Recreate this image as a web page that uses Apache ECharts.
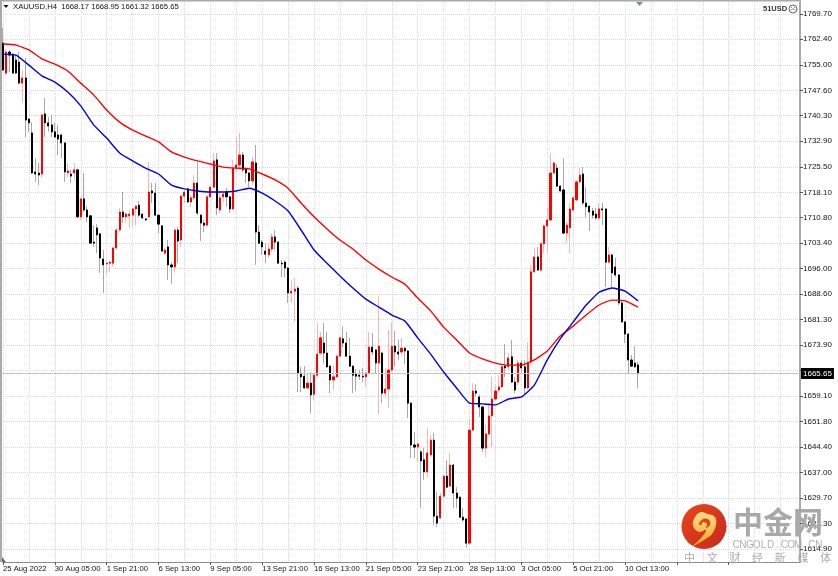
<!DOCTYPE html>
<html><head><meta charset="utf-8">
<style>html,body{margin:0;padding:0;background:#fff}#c{width:838px;height:576px}</style>
<script src="https://cdn.jsdelivr.net/npm/echarts@6/dist/echarts.min.js"></script>
</head><body><div id="c"></div>
<script>
const xTickLabels=["25 Aug 2022","30 Aug 05:00","1 Sep 21:00","6 Sep 13:00","9 Sep 05:00","13 Sep 21:00","16 Sep 13:00","21 Sep 05:00","23 Sep 21:00","28 Sep 13:00","3 Oct 05:00","5 Oct 21:00","10 Oct 13:00"];
const yTicks=[1769.70,1762.40,1755.00,1747.60,1740.30,1732.90,1725.50,1718.10,1710.80,1703.40,1696.00,1688.60,1681.30,1673.90,1666.50,1659.10,1651.80,1644.40,1637.00,1629.70,1622.30,1614.90];
const yHiddenLabel=1666.50;
const lastPrice=1665.65;
const open=[1761.3,1752.6,1758.7,1758.1,1756.4,1755.8,1749.7,1751.2,1739.3,1735.3,1724.0,1723.7,1723.4,1740.8,1738.2,1737.6,1735.6,1734.7,1734.7,1732.4,1723.7,1723.4,1723.7,1724.6,1711.0,1716.2,1713.0,1711.3,1703.7,1707.8,1706.1,1698.8,1697.4,1697.6,1697.6,1702.0,1707.2,1712.4,1711.0,1711.3,1711.5,1713.3,1714.4,1711.8,1710.4,1711.0,1718.5,1717.9,1711.5,1708.4,1700.5,1702.3,1697.1,1696.5,1707.2,1704.3,1717.0,1719.1,1715.3,1716.5,1720.8,1711.5,1709.2,1708.6,1716.8,1719.6,1727.5,1713.0,1716.8,1718.2,1716.8,1713.3,1725.1,1726.0,1728.9,1724.9,1723.7,1721.4,1726.6,1706.6,1703.7,1701.1,1700.0,1701.7,1705.2,1703.7,1697.6,1697.9,1696.2,1689.0,1689.5,1690.4,1665.8,1664.9,1661.5,1662.9,1659.7,1665.2,1671.6,1674.5,1671.6,1667.8,1663.8,1664.7,1670.7,1675.7,1674.5,1670.7,1667.8,1665.5,1665.2,1664.9,1664.7,1665.8,1673.3,1672.5,1668.7,1671.6,1660.0,1661.2,1666.7,1673.6,1671.9,1671.9,1673.0,1672.2,1657.1,1645.0,1644.4,1643.0,1640.7,1637.2,1642.1,1646.4,1624.4,1623.9,1630.2,1636.0,1633.1,1639.2,1631.1,1629.9,1624.1,1623.6,1616.6,1649.3,1660.6,1658.9,1656.0,1644.1,1648.2,1653.4,1658.3,1660.9,1661.8,1667.8,1667.6,1670.5,1663.2,1663.2,1668.7,1667.6,1661.5,1669.0,1695.1,1699.4,1695.6,1703.2,1708.4,1710.1,1723.7,1725.1,1719.9,1718.8,1706.3,1707.8,1713.0,1715.9,1721.1,1723.4,1715.0,1714.1,1712.7,1711.8,1710.7,1713.3,1713.3,1697.9,1700.0,1696.5,1694.2,1686.1,1680.6,1677.1,1669.6,1668.7,1668.17];
const close=[1753.5,1758.7,1757.8,1752.6,1752.6,1749.7,1751.2,1739.0,1738.2,1723.7,1723.4,1723.1,1740.5,1738.2,1737.3,1735.6,1734.1,1733.5,1732.4,1724.0,1724.3,1722.8,1724.6,1711.0,1716.2,1713.0,1711.0,1703.4,1703.4,1705.8,1699.1,1697.1,1697.6,1697.9,1702.0,1707.2,1712.4,1711.0,1711.8,1711.8,1713.3,1714.1,1711.5,1710.7,1710.1,1718.2,1717.9,1711.5,1708.9,1701.1,1701.4,1697.1,1696.5,1707.2,1704.0,1717.0,1718.2,1715.3,1716.5,1720.8,1712.1,1709.2,1708.6,1716.8,1719.6,1727.2,1713.6,1716.5,1717.6,1716.8,1713.3,1725.1,1726.0,1728.9,1724.6,1723.7,1721.4,1726.9,1706.6,1703.4,1702.3,1700.2,1701.7,1705.2,1703.7,1697.6,1697.4,1696.2,1689.0,1689.5,1690.1,1665.8,1664.7,1661.5,1662.9,1659.5,1665.2,1671.3,1676.0,1671.6,1667.6,1663.8,1664.7,1670.7,1676.0,1674.5,1670.7,1667.8,1665.2,1664.9,1664.9,1664.7,1665.8,1673.3,1671.9,1668.7,1673.6,1660.0,1661.2,1666.7,1673.6,1671.9,1671.3,1673.0,1672.2,1657.1,1645.0,1644.4,1645.3,1640.4,1637.2,1642.7,1646.4,1624.4,1622.4,1630.2,1636.0,1632.8,1639.2,1631.1,1629.6,1624.1,1623.3,1616.6,1649.3,1660.6,1660.0,1656.0,1644.1,1648.2,1653.4,1658.3,1660.6,1661.8,1667.6,1667.3,1670.2,1663.2,1660.9,1668.7,1667.3,1661.5,1668.7,1695.1,1699.4,1695.6,1703.2,1708.4,1710.1,1723.7,1726.6,1719.9,1718.5,1706.3,1708.6,1713.3,1716.5,1721.1,1723.1,1715.0,1713.9,1712.4,1711.5,1710.7,1713.3,1713.0,1697.9,1700.0,1694.8,1694.2,1686.1,1680.6,1677.1,1669.6,1667.8,1667.6,1665.65];
const low=[1753.2,1752.0,1752.9,1752.3,1752.3,1749.4,1744.0,1734.1,1735.6,1723.4,1721.1,1720.2,1722.2,1734.1,1735.6,1734.1,1733.8,1728.9,1728.0,1721.1,1722.5,1720.8,1721.7,1710.7,1710.1,1712.4,1709.5,1703.2,1702.3,1700.5,1694.8,1689.0,1694.5,1695.1,1696.5,1701.4,1706.6,1709.2,1709.5,1707.8,1708.1,1708.6,1711.0,1710.4,1709.8,1710.7,1715.0,1711.3,1706.3,1700.8,1700.0,1692.7,1691.6,1694.8,1697.6,1702.3,1715.0,1715.0,1713.9,1715.9,1711.5,1704.0,1706.6,1708.4,1716.5,1719.3,1711.5,1712.1,1715.3,1713.9,1712.1,1713.0,1723.7,1724.6,1724.0,1720.8,1719.6,1720.2,1697.1,1703.2,1700.0,1697.6,1699.1,1700.8,1701.4,1697.4,1693.6,1693.6,1686.1,1686.1,1680.6,1660.3,1660.3,1661.2,1661.2,1654.2,1658.0,1664.7,1671.3,1668.7,1667.3,1660.0,1660.9,1664.4,1670.5,1673.3,1670.5,1667.6,1660.0,1660.6,1663.8,1663.2,1661.8,1665.5,1671.0,1665.5,1653.9,1657.1,1658.6,1655.7,1666.1,1667.8,1669.6,1671.0,1668.4,1652.8,1641.2,1641.2,1639.8,1626.8,1634.9,1635.7,1641.8,1621.8,1621.3,1623.6,1629.7,1632.5,1632.8,1626.8,1626.8,1623.9,1622.7,1615.2,1616.1,1649.0,1659.2,1653.1,1643.0,1641.5,1647.9,1644.4,1658.0,1660.3,1661.5,1664.7,1666.7,1662.9,1660.0,1662.3,1666.1,1659.5,1660.9,1668.1,1694.8,1695.3,1695.1,1700.5,1700.5,1709.8,1723.4,1719.6,1718.2,1706.0,1703.4,1700.5,1712.7,1715.6,1720.8,1714.4,1710.7,1706.9,1710.4,1710.1,1710.1,1708.6,1690.7,1697.6,1690.7,1693.6,1685.5,1680.3,1674.5,1665.8,1667.6,1667.3,1661.32];
const high=[1765.6,1759.6,1759.3,1758.4,1757.8,1758.7,1753.5,1757.0,1739.6,1738.4,1728.0,1726.6,1740.8,1745.4,1739.9,1740.5,1738.2,1737.6,1735.0,1732.7,1726.6,1724.6,1726.6,1724.9,1716.5,1723.7,1714.1,1711.5,1708.6,1708.9,1706.3,1701.4,1697.9,1698.2,1702.3,1707.8,1713.6,1718.2,1712.4,1713.0,1713.6,1714.4,1715.6,1712.1,1710.7,1726.9,1720.8,1720.8,1711.5,1708.6,1702.0,1704.3,1697.9,1707.5,1708.1,1717.3,1718.8,1719.4,1717.3,1723.1,1726.9,1711.8,1710.1,1717.0,1719.9,1729.5,1729.5,1717.9,1718.2,1719.4,1717.0,1727.5,1734.1,1735.3,1729.8,1725.4,1724.0,1728.3,1731.8,1708.6,1704.3,1703.4,1703.4,1706.3,1707.2,1704.0,1698.5,1698.5,1696.5,1692.7,1693.3,1691.0,1667.6,1667.8,1665.8,1666.1,1665.5,1680.3,1677.7,1680.3,1677.7,1668.1,1668.1,1671.0,1676.2,1679.4,1677.7,1676.0,1668.1,1667.0,1666.7,1667.3,1666.1,1677.7,1677.4,1672.8,1688.1,1671.9,1667.3,1678.3,1680.6,1678.0,1675.4,1676.0,1673.3,1672.5,1657.4,1648.7,1645.6,1643.5,1644.1,1649.9,1647.9,1648.5,1631.4,1631.1,1636.3,1640.7,1642.7,1639.5,1632.8,1630.2,1626.8,1623.9,1652.5,1662.9,1662.6,1659.5,1656.3,1650.8,1657.1,1664.7,1662.3,1665.2,1668.7,1674.2,1671.6,1675.4,1664.7,1669.6,1669.6,1669.6,1674.8,1697.1,1702.0,1702.3,1703.7,1708.6,1713.6,1729.5,1726.9,1726.3,1720.2,1728.0,1709.5,1715.0,1716.7,1721.7,1725.1,1725.4,1719.6,1714.4,1713.6,1713.6,1715.0,1715.0,1713.6,1702.3,1700.3,1699.1,1694.5,1686.7,1680.9,1677.4,1671.0,1673.6,1668.95];
// moving averages, read every 4th bar
const maStep=4;
const maRed=[1761.0,1760.7,1759.3,1756.7,1755.2,1753.2,1749.7,1746.3,1741.9,1738.4,1736.1,1734.4,1732.7,1729.8,1728.3,1727.2,1726.3,1725.4,1725.1,1724.9,1723.4,1721.7,1719.3,1715.0,1711.0,1707.5,1704.3,1701.7,1698.5,1695.9,1693.6,1691.6,1687.5,1683.8,1679.1,1675.4,1671.6,1669.9,1668.7,1668.1,1668.1,1669.6,1672.2,1676.5,1679.4,1682.6,1685.5,1686.9,1686.7,1684.9];
const maBlue=[1758.1,1757.8,1754.9,1751.8,1750.0,1747.1,1743.1,1737.6,1733.8,1729.5,1727.2,1725.1,1723.4,1720.2,1719.1,1718.5,1718.2,1718.2,1718.5,1719.3,1717.9,1715.6,1712.7,1707.2,1701.4,1697.6,1693.9,1690.4,1687.2,1684.9,1682.6,1680.9,1676.0,1671.3,1666.1,1661.5,1657.1,1656.9,1656.6,1658.3,1658.9,1662.3,1669.6,1675.7,1680.6,1685.5,1689.2,1690.4,1689.5,1686.7];
const titleText="XAUUSD,H4  1668.17 1668.95 1661.32 1665.65";
const brandSub=["中","文","财","经","新","媒","体"];
const brandLatin="CNGOLD.COM.CN";

const nSlots=247, tickEvery=16, gridEvery=8;
const categories=Array.from({length:nSlots},(_,i)=>i%tickEvery===0?(xTickLabels[i/tickEvery]||''):'');
const wickData=open.map((o,i)=>[o,close[i],low[i],high[i]]);
const bodyData=open.map((o,i)=>[o,close[i],Math.min(o,close[i]),Math.max(o,close[i])]);
const FONT='"Liberation Sans"';
const G=[];
// frame
G.push({type:'rect',shape:{x:0,y:0,width:2,height:562},style:{fill:'#a9a9a9'},z:50});
G.push({type:'rect',shape:{x:0,y:0,width:801,height:1.6},style:{fill:'#a9a9a9'},z:50});
G.push({type:'polygon',shape:{points:[[636,2],[643,2],[639.5,6]]},style:{fill:'#7d8a9a'},z:51});
G.push({type:'polygon',shape:{points:[[2,557],[2,562],[6,562]]},style:{fill:'#5a7088'},z:51});
G.push({type:'polygon',shape:{points:[[3.5,5],[8.5,5],[6,8]]},style:{fill:'#111'},z:51});
G.push({type:'text',x:13,y:3,style:{text:titleText,font:'7.7px '+FONT,fill:'#111'},z:51});
G.push({type:'text',x:763,y:5,style:{text:'51USD',font:'bold 7.5px '+FONT,fill:'#333'},z:51});
G.push({type:'circle',shape:{cx:793,cy:9,r:4},style:{fill:'none',stroke:'#666',lineWidth:1},z:51});
G.push({type:'arc',shape:{cx:793,cy:12,r:3,startAngle:Math.PI*1.2,endAngle:Math.PI*1.8},style:{fill:'none',stroke:'#666',lineWidth:0.8},z:51});
G.push({type:'line',shape:{x1:791,y1:7,x2:792,y2:8},style:{stroke:'#666',lineWidth:0.8},z:51});
G.push({type:'line',shape:{x1:795,y1:7,x2:794,y2:8},style:{stroke:'#666',lineWidth:0.8},z:51});
// watermark
G.push({type:'circle',shape:{cx:704,cy:526.5,r:22.5},style:{fill:{type:'linear',x:0,y:0,x2:1,y2:1,colorStops:[{offset:0,color:'#e8461a'},{offset:1,color:'#c8281e'}]}},z:60});
G.push({type:'polygon',shape:{smooth:0.4,points:[[695,517],[701,512],[708,514],[715,517],[716,525],[712,534],[704,540],[693,546],[701,538],[706,530],[699,532],[693,526]]},style:{fill:{type:'linear',x:0,y:0,x2:0,y2:1,colorStops:[{offset:0,color:'#fbdc8a'},{offset:1,color:'#f5a623'}]}},z:61});
G.push({type:'polygon',shape:{smooth:0.4,points:[[699,524],[703,519],[709,520],[710,525],[706,528],[707,524],[703,522],[701,525]]},style:{fill:'#d9481c'},z:62});
G.push({type:'text',x:733,y:507,style:{text:'中金网',font:'bold 30px "Noto Sans CJK SC"',fill:'#a8a8a8'},z:60});
brandLatin.split('').forEach((c,i)=>G.push({type:'text',x:736+6.9*i,y:545,style:{text:c,font:'10px '+FONT,fill:'#b0b0b0',align:'center',verticalAlign:'middle'},z:60}));
brandSub.forEach((c,i)=>G.push({type:'text',x:684+22.7*i,y:552,style:{text:c,font:'11px "Noto Sans CJK SC"',fill:'#adadad'},z:60}));

const chart=echarts.init(document.getElementById('c'),null,{renderer:'canvas'});
chart.setOption({
 animation:false,
 backgroundColor:'#fff',
 grid:{left:1.9,top:2,width:798.1,height:560,containLabel:false},
 xAxis:{type:'category',data:categories,boundaryGap:false,
  axisLine:{show:true,lineStyle:{color:'#8c8c8c',width:1}},
  axisTick:{show:true,interval:tickEvery-1,length:3,lineStyle:{color:'#555'}},
  axisLabel:{show:true,interval:tickEvery-1,align:'left',margin:3,fontFamily:'Liberation Sans',fontSize:7.7,color:'#111',showMaxLabel:false,hideOverlap:false},
  splitLine:{show:true,interval:gridEvery-1,lineStyle:{color:'#d6dbe3',type:'dotted',width:1}}
 },
 yAxis:{type:'value',position:'right',min:1611.14,max:1773.17,scale:true,
  axisLine:{show:true,onZero:false,lineStyle:{color:'#8c8c8c',width:1.5}},
  axisTick:{show:true,length:3,customValues:yTicks,lineStyle:{color:'#555'}},
  axisLabel:{show:true,margin:3,customValues:yTicks.filter(v=>v!==yHiddenLabel),fontFamily:'Liberation Sans',fontSize:8,color:'#111',formatter:v=>Number(v).toFixed(2)},
  splitLine:{show:true,lineStyle:{color:'#d6dbe3',type:'dotted',width:1}}
 },
 series:[
  {name:'wick',type:'candlestick',data:wickData,barWidth:1,clip:false,silent:true,
   itemStyle:{color:'#ffb4b4',color0:'#a8a8a8',borderColor:'#ffb4b4',borderColor0:'#a8a8a8',borderWidth:1},
   markLine:{silent:true,symbol:'none',animation:false,data:[{yAxis:lastPrice}],
    lineStyle:{color:'#c4c4c4',type:'solid',width:1},
    label:{show:true,position:'end',distance:1,formatter:()=>lastPrice.toFixed(2),fontFamily:'Liberation Sans',fontSize:8,color:'#fff',backgroundColor:'#000',padding:[2,2,1,2]}}},
  {name:'body',type:'candlestick',data:bodyData,barWidth:1.6,clip:false,silent:true,
   itemStyle:{color:'#ff0000',color0:'#000',borderColor:'#ff0000',borderColor0:'#000',borderWidth:1}},
  {name:'MA slow',type:'line',data:maRed.map((v,k)=>[k*maStep,v]),showSymbol:false,symbol:'none',smooth:0.15,lineStyle:{color:'#ff0000',width:1.4},silent:true,z:5},
  {name:'MA fast',type:'line',data:maBlue.map((v,k)=>[k*maStep,v]),showSymbol:false,symbol:'none',smooth:0.15,lineStyle:{color:'#0000e0',width:1.4},silent:true,z:5}
 ],
 graphic:{elements:G}
});
</script></body></html>
